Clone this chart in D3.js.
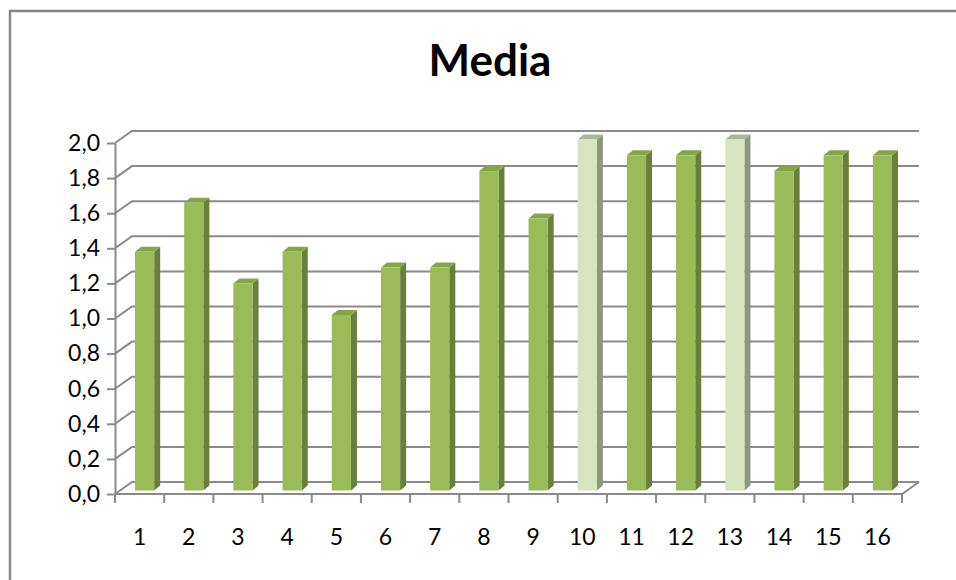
<!DOCTYPE html>
<html>
<head>
<meta charset="utf-8">
<script src="https://cdn.jsdelivr.net/npm/d3@7"></script>
<style>
  html, body { margin: 0; padding: 0; background: #fff; }
  svg { display: block; font-family: Lato, "Open Sans", sans-serif; }
</style>
</head>
<body>
<div id="chart"></div>
<script>
// chart data
const categories = ['1', '2', '3', '4', '5', '6', '7', '8', '9', '10', '11', '12', '13', '14', '15', '16'];
const values = [1.36, 1.64, 1.18, 1.36, 1.00, 1.27, 1.27, 1.82, 1.55, 2.00, 1.91, 1.91, 2.00, 1.82, 1.91, 1.91];
const yTicks = [0, 0.2, 0.4, 0.6, 0.8, 1.0, 1.2, 1.4, 1.6, 1.8, 2.0];
const title = 'Media';

const svgWidth = 956, svgHeight = 580;

// front plane of the 3D plot area
const plot = { left: 115, right: 902, top: 143, bottom: 494 };
const depth = { dx: 17, dy: -12 };      // wall depth offset
const barDepth = { dx: 6, dy: -5 };     // bar depth
const barShift = { dx: 5, dy: -3.5 };   // bars sit a bit into the plot

const svg = d3.select('#chart')
  .append('svg')
  .attr('width', svgWidth)
  .attr('height', svgHeight);

// outer chart border (runs off the right/bottom edge)
svg.append('rect')
  .attr('x', 10).attr('y', 11)
  .attr('width', 1000).attr('height', 700)
  .attr('fill', '#fff')
  .attr('stroke', '#878787')
  .attr('stroke-width', 2.5);

const x = d3.scaleBand()
  .domain(categories)
  .range([plot.left, plot.right])
  .padding(0);

const y = d3.scaleLinear()
  .domain([0, 2])
  .range([plot.bottom, plot.top]);

const gridColor = '#8a8a8a';

// gridlines: left wall diagonal + back wall horizontal
const grid = svg.append('g')
  .attr('fill', 'none')
  .attr('stroke', gridColor)
  .attr('stroke-width', 2);

grid.selectAll('path.grid')
  .data(yTicks)
  .enter().append('path')
  .attr('class', 'grid')
  .attr('d', d => {
    const yy = y(d);
    return 'M' + plot.left + ',' + yy +
      'L' + (plot.left + depth.dx) + ',' + (yy + depth.dy) +
      'L' + (plot.right + depth.dx) + ',' + (yy + depth.dy);
  });

// floor front edge and right diagonal
grid.append('path')
  .attr('d', 'M' + plot.left + ',' + plot.bottom +
    'L' + plot.right + ',' + plot.bottom +
    'L' + (plot.right + depth.dx) + ',' + (plot.bottom + depth.dy));

// y axis
const yAxis = svg.append('g')
  .attr('transform', 'translate(' + plot.left + ',0)')
  .call(d3.axisLeft(y)
    .tickValues(yTicks)
    .tickSize(8)
    .tickSizeOuter(0)
    .tickPadding(7)
    .tickFormat(d => d3.format('.1f')(d).replace('.', ',')));

// x axis (ticks on category boundaries)
const xAxis = svg.append('g')
  .attr('transform', 'translate(0,' + plot.bottom + ')')
  .call(d3.axisBottom(x).tickSize(0).tickPadding(35));

xAxis.selectAll('.xb')
  .data(d3.range(categories.length + 1))
  .enter().append('line')
  .attr('class', 'xb')
  .attr('x1', i => plot.left + i * x.step())
  .attr('x2', i => plot.left + i * x.step())
  .attr('y1', 0)
  .attr('y2', 9);

[yAxis, xAxis].forEach(g => {
  g.selectAll('path.domain, line')
    .attr('stroke', gridColor)
    .attr('stroke-width', 2);
  g.selectAll('text')
    .attr('fill', '#000')
    .style('font-size', '23px')
    .style('font-family', 'Lato, sans-serif');
});
xAxis.select('path.domain').remove();

// 3D bars
const maxVal = d3.max(values);
const barW = x.bandwidth() * 0.39;
const data = categories.map((c, i) => ({ cat: c, value: values[i] }));

const colors = d => d.value === maxVal
  ? { front: '#d7e4bd', side: '#8d977a', top: '#aab695' }
  : { front: '#9bbb59', side: '#6a803a', top: '#86a54a' };

const bars = svg.append('g').selectAll('g.bar')
  .data(data)
  .enter().append('g')
  .attr('class', 'bar');

bars.each(function (d) {
  const g = d3.select(this);
  const c = colors(d);
  const x0 = x(d.cat) + (x.bandwidth() - barW) / 2 + barShift.dx;
  const x1 = x0 + barW;
  const yt = y(d.value) + barShift.dy;
  const yb = y(0) + barShift.dy;

  // side face
  g.append('path')
    .attr('d', 'M' + x1 + ',' + yb + 'L' + x1 + ',' + yt +
      'L' + (x1 + barDepth.dx) + ',' + (yt + barDepth.dy) +
      'L' + (x1 + barDepth.dx) + ',' + (yb + barDepth.dy) + 'Z')
    .attr('fill', c.side);

  // top face
  g.append('path')
    .attr('d', 'M' + x0 + ',' + yt + 'L' + x1 + ',' + yt +
      'L' + (x1 + barDepth.dx) + ',' + (yt + barDepth.dy) +
      'L' + (x0 + barDepth.dx) + ',' + (yt + barDepth.dy) + 'Z')
    .attr('fill', c.top);

  // front face
  g.append('rect')
    .attr('x', x0).attr('y', yt)
    .attr('width', barW).attr('height', yb - yt)
    .attr('fill', c.front);
});

// title
svg.append('text')
  .attr('x', 490)
  .attr('y', 76)
  .attr('text-anchor', 'middle')
  .style('font-family', 'Lato, sans-serif')
  .style('font-weight', 'bold')
  .style('font-size', '44px')
  .attr('fill', '#000')
  .text(title);
</script>
</body>
</html>
